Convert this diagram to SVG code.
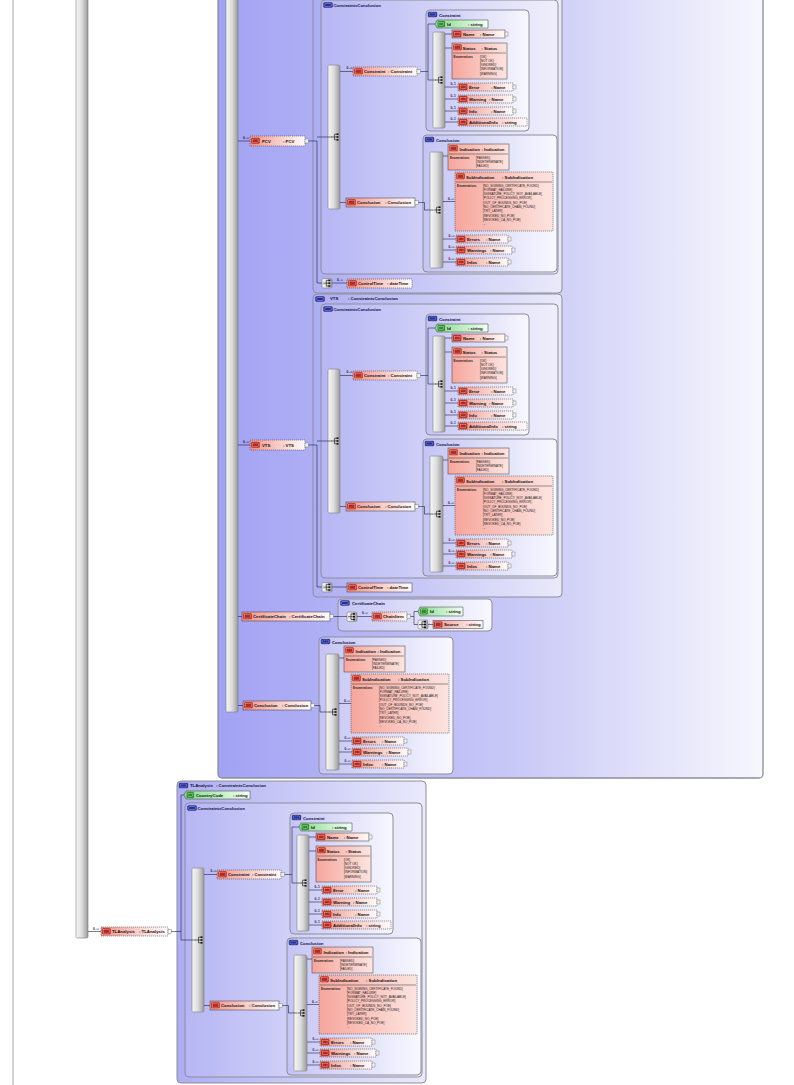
<svg xmlns="http://www.w3.org/2000/svg" width="794" height="1085" viewBox="0 0 794 1085">
<defs>
<style>
text{font-family:"Liberation Sans",Arial,sans-serif;fill:#111}
.t{font-size:4.3px;font-weight:bold}
.h{font-size:4.3px;font-weight:bold;fill:#0e0e3c}
.m{font-size:3.2px;font-weight:bold;fill:#1a1a40}
.en{font-size:3.1px;fill:#222}
.enl{font-size:2.9px;font-weight:bold;fill:#222}
.cn{fill:none;stroke:#20204a;stroke-width:.6}
.bar{fill:url(#gBar);stroke:#7d7d7d;stroke-width:.6}
.bx0{fill:url(#gBig);stroke:#8d8d9a;stroke-width:1.3}
.bx1{fill:url(#gType);stroke:#8d8d9a;stroke-width:1}
.bx2{fill:url(#gCC);stroke:#8d8d9a;stroke-width:1}
.bx3{fill:url(#gCE);stroke:#8d8d9a;stroke-width:1}
.el{fill:url(#gEl);stroke:#3a3a3a;stroke-width:.5}
.elb{fill:url(#gElB);stroke:#3a3a3a;stroke-width:.5}
.o{stroke-dasharray:1.2 .8}
.at{fill:url(#gAt);stroke:#3a3a3a;stroke-width:.5}
.tail{fill:#f2f2f2;stroke:#6a6a6a;stroke-width:.4}
.dv{stroke:#333;stroke-width:.5}
</style>
<linearGradient id="gBig"><stop offset="0" stop-color="#a2a2f4"/><stop offset="0.55" stop-color="#c9c9f7"/><stop offset="1" stop-color="#f7f7fd"/></linearGradient>
<linearGradient id="gType"><stop offset="0" stop-color="#adadf3"/><stop offset="1" stop-color="#eaeafb"/></linearGradient>
<linearGradient id="gCC"><stop offset="0" stop-color="#b6b6f4"/><stop offset="1" stop-color="#efeffc"/></linearGradient>
<linearGradient id="gCE"><stop offset="0" stop-color="#c4c4f5"/><stop offset="1" stop-color="#f8f8ff"/></linearGradient>
<linearGradient id="gBar"><stop offset="0" stop-color="#f7f7f7"/><stop offset="0.5" stop-color="#dcdcdc"/><stop offset="1" stop-color="#9a9a9a"/></linearGradient>
<linearGradient id="gEl"><stop offset="0" stop-color="#f0928a"/><stop offset="0.45" stop-color="#f8c6c0"/><stop offset="1" stop-color="#fffafa"/></linearGradient>
<linearGradient id="gElB"><stop offset="0" stop-color="#f6a69c"/><stop offset="1" stop-color="#fde4e0"/></linearGradient>
<linearGradient id="gAt"><stop offset="0" stop-color="#86dc8e"/><stop offset="1" stop-color="#f2fff2"/></linearGradient>
<g id="ic-e"><rect width="8" height="5.6" rx="0.8" fill="#b8281f" stroke="#7a1010" stroke-width="0.3"/><rect x="1.2" y="1" width="5.6" height="3.6" fill="none" stroke="#ffd8d2" stroke-width="0.35"/></g>
<g id="ic-a"><rect width="7" height="5.6" rx="0.8" fill="#2f8d2f" stroke="#145214" stroke-width="0.3"/><rect x="1.1" y="1" width="4.8" height="3.6" fill="none" stroke="#d8ffd8" stroke-width="0.35"/></g>
<g id="ic-ce"><rect width="9" height="5" rx="1.2" fill="#25309a" stroke="#0c1050" stroke-width="0.3"/><rect x="1.2" y="1" width="6.6" height="3" rx="0.6" fill="none" stroke="#c8ccff" stroke-width="0.4"/></g>
<g id="seqi"><path d="M-4.5,0H-1.5M-1.5,-2.8V2.8M-1.5,-2.8H0.5M-1.5,0H0.5M-1.5,2.8H0.5" stroke="#111" stroke-width="0.6" fill="none"/><rect x="0.5" y="-3.6" width="2" height="1.6" fill="#111"/><rect x="0.5" y="-0.8" width="2" height="1.6" fill="#111"/><rect x="0.5" y="2" width="2" height="1.6" fill="#111"/></g>
</defs>
<rect width="794" height="1085" fill="#ffffff"/>

<g id="left-line"><line x1="13" y1="0" x2="13" y2="1085" stroke="#c4c4c4" stroke-width="1.5"/></g>
<g id="root-seq"><rect class="bar" x="76" y="-12" width="12" height="950" rx="1.5"/></g>

<g id="big-type"><rect class="bx0" x="218" y="-12" width="545" height="790" rx="4"/></g>
<g id="big-seq"><rect class="bar" x="226" y="-12" width="12" height="724" rx="1.5"/></g>

<!-- PCV type -->
<g id="pcv-type">
<rect class="bx1" x="313" y="-10" width="249" height="303" rx="4"/>
<g id="pcv-cc" transform="translate(321,0)">
<rect class="bx2" width="237" height="274" rx="4"/>
<use href="#ic-ce" x="2.5" y="2.5"/>
<text class="h" x="12.5" y="6.8">ConstraintsConclusion</text>
<g id="pcv-cc-seq"><rect class="bar" x="7" y="65" width="12" height="144" rx="1.5"/><use href="#seqi" x="15" y="137"/></g>
<g id="pcv-constraint"><text class="m" x="25.5" y="69">0..∞</text><rect class="el o" x="32" y="67" width="64" height="9"/><use href="#ic-e" x="33.5" y="68.5"/><text class="t" x="43" y="73.3">Constraint</text><text class="t" x="67" y="73.3">: Constraint</text><rect class="tail" x="96" y="69.5" width="3.5" height="4"/></g>
<g id="pcv-conclusion"><rect class="el" x="25" y="198" width="69" height="9"/><use href="#ic-e" x="26.5" y="199.5"/><text class="t" x="36" y="204.3">Conclusion</text><text class="t" x="64" y="204.3">: Conclusion</text><rect class="tail" x="94" y="200.5" width="3.5" height="4"/></g>
<g id="pcv-constraint-type" transform="translate(105,10)">
<rect class="bx3" width="103" height="121" rx="4"/>
<use href="#ic-ce" x="2" y="2"/>
<text class="h" x="13" y="6.6">Constraint</text>
<g id="pcv-c-id"><polygon class="at" points="11,10 62,10 62,18 11,18 9,14"/><use href="#ic-a" x="11.8" y="11.2"/><text class="t" x="21" y="15.8">Id</text><text class="t" x="42" y="15.8">: string</text></g>
<g id="pcv-c-seq"><rect class="bar" x="7" y="22" width="12" height="96" rx="1.5"/><use href="#seqi" x="14" y="70"/></g>
<g id="pcv-c-name"><rect class="el" x="26" y="20" width="53" height="8"/><use href="#ic-e" x="27.2" y="21.2"/><text class="t" x="37" y="25.8">Name</text><text class="t" x="54" y="25.8">: Name</text><rect class="tail" x="79" y="22" width="3" height="4"/></g>
<g id="pcv-c-status"><rect class="elb" x="26" y="33" width="55" height="36"/><use href="#ic-e" x="27.5" y="34.5"/><text class="t" x="36.5" y="39.6">Status</text><text class="t" x="55.5" y="39.6">: Status</text><line class="dv" x1="27" y1="43" x2="80" y2="43"/><text class="enl" x="27.5" y="47.5">Enumerations</text><text class="en" y="47.5"><tspan x="54">[OK]</tspan><tspan x="54" dy="4.3">[NOT OK]</tspan><tspan x="54" dy="4.3">[IGNORED]</tspan><tspan x="54" dy="4.3">[INFORMATION]</tspan><tspan x="54" dy="4.3">[WARNING]</tspan></text></g>
<g id="pcv-c-error"><text class="m" x="24.5" y="75">0..1</text><rect class="el o" x="32" y="73" width="55" height="8"/><use href="#ic-e" x="33.2" y="74.2"/><text class="t" x="43" y="78.8">Error</text><text class="t" x="65" y="78.8">: Name</text><rect class="tail" x="87" y="75" width="3" height="4"/></g>
<g id="pcv-c-warning"><text class="m" x="24.5" y="87">0..1</text><rect class="el o" x="32" y="85" width="55" height="8"/><use href="#ic-e" x="33.2" y="86.2"/><text class="t" x="43" y="90.8">Warning</text><text class="t" x="63" y="90.8">: Name</text><rect class="tail" x="87" y="87" width="3" height="4"/></g>
<g id="pcv-c-info"><text class="m" x="24.5" y="99">0..1</text><rect class="el o" x="32" y="97" width="55" height="8"/><use href="#ic-e" x="33.2" y="98.2"/><text class="t" x="43" y="102.8">Info</text><text class="t" x="65" y="102.8">: Name</text><rect class="tail" x="87" y="99" width="3" height="4"/></g>
<g id="pcv-c-addinfo"><text class="m" x="24.5" y="110">0..1</text><rect class="el o" x="32" y="108" width="69" height="8"/><use href="#ic-e" x="33.2" y="109.2"/><text class="t" x="43" y="113.8">AdditionalInfo</text><text class="t" x="76" y="113.8">: string</text></g>
</g>
<g id="pcv-conclusion-type" transform="translate(102,135)">
<rect class="bx3" width="134" height="137" rx="4"/>
<use href="#ic-ce" x="2" y="2"/>
<text class="h" x="13" y="6.6">Conclusion</text>
<g id="pcv-q-seq"><rect class="bar" x="7" y="17" width="13" height="116" rx="1.5"/><use href="#seqi" x="15" y="75"/></g>
<g id="pcv-q-indication"><rect class="elb" x="25" y="9" width="61" height="26"/><use href="#ic-e" x="26.5" y="10.5"/><text class="t" x="36.5" y="15.6">Indication</text><text class="t" x="58.5" y="15.6">: Indication</text><line class="dv" x1="26" y1="19" x2="85" y2="19"/><text class="enl" x="27" y="23.5">Enumerations</text><text class="en" y="23.5"><tspan x="53">[PASSED]</tspan><tspan x="53" dy="4.3">[INDETERMINATE]</tspan><tspan x="53" dy="4.3">[FAILED]</tspan></text></g>
<g id="pcv-q-subindication"><text class="m" x="25" y="64.5">0..∞</text><rect class="elb o" x="32" y="37" width="98" height="59"/><use href="#ic-e" x="33.5" y="38.5"/><text class="t" x="43" y="43.6">SubIndication</text><text class="t" x="79" y="43.6">: SubIndication</text><line class="dv" x1="33" y1="47" x2="129" y2="47"/><text class="enl" x="34" y="51.5">Enumerations</text><text class="en" y="51.5"><tspan x="60">[NO_SIGNING_CERTIFICATE_FOUND]</tspan><tspan x="60" dy="4.3">[FORMAT_FAILURE]</tspan><tspan x="60" dy="4.3">[SIGNATURE_POLICY_NOT_AVAILABLE]</tspan><tspan x="60" dy="4.3">[POLICY_PROCESSING_ERROR]</tspan><tspan x="60" dy="4.3">[OUT_OF_BOUNDS_NO_POE]</tspan><tspan x="60" dy="4.3">[NO_CERTIFICATE_CHAIN_FOUND]</tspan><tspan x="60" dy="4.3">[TRY_LATER]</tspan><tspan x="60" dy="4.3">[REVOKED_NO_POE]</tspan><tspan x="60" dy="4.3">[REVOKED_CA_NO_POE]</tspan><tspan x="60" dy="4.3">...</tspan></text></g>
<g id="pcv-q-errors"><text class="m" x="25.5" y="102">0..∞</text><rect class="el o" x="33" y="100" width="52" height="8"/><use href="#ic-e" x="34.2" y="101.2"/><text class="t" x="44" y="105.8">Errors</text><text class="t" x="63" y="105.8">: Name</text><rect class="tail" x="85" y="102" width="3" height="4"/></g>
<g id="pcv-q-warnings"><text class="m" x="25.5" y="113">0..∞</text><rect class="el o" x="33" y="111" width="56" height="8"/><use href="#ic-e" x="34.2" y="112.2"/><text class="t" x="44" y="116.8">Warnings</text><text class="t" x="67" y="116.8">: Name</text><rect class="tail" x="89" y="113" width="3" height="4"/></g>
<g id="pcv-q-infos"><text class="m" x="25.5" y="125">0..∞</text><rect class="el o" x="33" y="123" width="52" height="8"/><use href="#ic-e" x="34.2" y="124.2"/><text class="t" x="44" y="128.8">Infos</text><text class="t" x="63" y="128.8">: Name</text><rect class="tail" x="85" y="125" width="3" height="4"/></g>
</g>
</g>
<g id="pcv-controltime-seq"><rect class="bar" x="322" y="278.5" width="10" height="9.5" rx="1.5"/><use href="#seqi" x="327.8" y="283.2"/></g>
<g id="pcv-controltime"><text class="m" x="337" y="280.5">0..∞</text><rect class="el o" x="347" y="279" width="65" height="9"/><use href="#ic-e" x="348.5" y="280.5"/><text class="t" x="358" y="285.3">ControlTime</text><text class="t" x="387" y="285.3">: dateTime</text></g>
</g>

<!-- VTS type -->
<g id="vts-type" transform="translate(0,304)">
<rect class="bx1" x="313" y="-10" width="249" height="303" rx="4"/>
<use href="#ic-ce" x="315.5" y="-7.5"/>
<text class="h" x="330" y="-3.6">VTS</text>
<text class="h" x="348" y="-3.6">: ConstraintsConclusion</text>
<g id="vts-cc" transform="translate(321,0)">
<rect class="bx2" width="237" height="274" rx="4"/>
<use href="#ic-ce" x="2.5" y="2.5"/>
<text class="h" x="12.5" y="6.8">ConstraintsConclusion</text>
<g id="vts-cc-seq"><rect class="bar" x="7" y="65" width="12" height="144" rx="1.5"/><use href="#seqi" x="15" y="137"/></g>
<g id="vts-constraint"><text class="m" x="25.5" y="69">0..∞</text><rect class="el o" x="32" y="67" width="64" height="9"/><use href="#ic-e" x="33.5" y="68.5"/><text class="t" x="43" y="73.3">Constraint</text><text class="t" x="67" y="73.3">: Constraint</text><rect class="tail" x="96" y="69.5" width="3.5" height="4"/></g>
<g id="vts-conclusion"><rect class="el" x="25" y="198" width="69" height="9"/><use href="#ic-e" x="26.5" y="199.5"/><text class="t" x="36" y="204.3">Conclusion</text><text class="t" x="64" y="204.3">: Conclusion</text><rect class="tail" x="94" y="200.5" width="3.5" height="4"/></g>
<g id="vts-constraint-type" transform="translate(105,10)">
<rect class="bx3" width="103" height="121" rx="4"/>
<use href="#ic-ce" x="2" y="2"/>
<text class="h" x="13" y="6.6">Constraint</text>
<g id="vts-c-id"><polygon class="at" points="11,10 62,10 62,18 11,18 9,14"/><use href="#ic-a" x="11.8" y="11.2"/><text class="t" x="21" y="15.8">Id</text><text class="t" x="42" y="15.8">: string</text></g>
<g id="vts-c-seq"><rect class="bar" x="7" y="22" width="12" height="96" rx="1.5"/><use href="#seqi" x="14" y="70"/></g>
<g id="vts-c-name"><rect class="el" x="26" y="20" width="53" height="8"/><use href="#ic-e" x="27.2" y="21.2"/><text class="t" x="37" y="25.8">Name</text><text class="t" x="54" y="25.8">: Name</text><rect class="tail" x="79" y="22" width="3" height="4"/></g>
<g id="vts-c-status"><rect class="elb" x="26" y="33" width="55" height="36"/><use href="#ic-e" x="27.5" y="34.5"/><text class="t" x="36.5" y="39.6">Status</text><text class="t" x="55.5" y="39.6">: Status</text><line class="dv" x1="27" y1="43" x2="80" y2="43"/><text class="enl" x="27.5" y="47.5">Enumerations</text><text class="en" y="47.5"><tspan x="54">[OK]</tspan><tspan x="54" dy="4.3">[NOT OK]</tspan><tspan x="54" dy="4.3">[IGNORED]</tspan><tspan x="54" dy="4.3">[INFORMATION]</tspan><tspan x="54" dy="4.3">[WARNING]</tspan></text></g>
<g id="vts-c-error"><text class="m" x="24.5" y="75">0..1</text><rect class="el o" x="32" y="73" width="55" height="8"/><use href="#ic-e" x="33.2" y="74.2"/><text class="t" x="43" y="78.8">Error</text><text class="t" x="65" y="78.8">: Name</text><rect class="tail" x="87" y="75" width="3" height="4"/></g>
<g id="vts-c-warning"><text class="m" x="24.5" y="87">0..1</text><rect class="el o" x="32" y="85" width="55" height="8"/><use href="#ic-e" x="33.2" y="86.2"/><text class="t" x="43" y="90.8">Warning</text><text class="t" x="63" y="90.8">: Name</text><rect class="tail" x="87" y="87" width="3" height="4"/></g>
<g id="vts-c-info"><text class="m" x="24.5" y="99">0..1</text><rect class="el o" x="32" y="97" width="55" height="8"/><use href="#ic-e" x="33.2" y="98.2"/><text class="t" x="43" y="102.8">Info</text><text class="t" x="65" y="102.8">: Name</text><rect class="tail" x="87" y="99" width="3" height="4"/></g>
<g id="vts-c-addinfo"><text class="m" x="24.5" y="110">0..1</text><rect class="el o" x="32" y="108" width="69" height="8"/><use href="#ic-e" x="33.2" y="109.2"/><text class="t" x="43" y="113.8">AdditionalInfo</text><text class="t" x="76" y="113.8">: string</text></g>
</g>
<g id="vts-conclusion-type" transform="translate(102,135)">
<rect class="bx3" width="134" height="137" rx="4"/>
<use href="#ic-ce" x="2" y="2"/>
<text class="h" x="13" y="6.6">Conclusion</text>
<g id="vts-q-seq"><rect class="bar" x="7" y="17" width="13" height="116" rx="1.5"/><use href="#seqi" x="15" y="75"/></g>
<g id="vts-q-indication"><rect class="elb" x="25" y="9" width="61" height="26"/><use href="#ic-e" x="26.5" y="10.5"/><text class="t" x="36.5" y="15.6">Indication</text><text class="t" x="58.5" y="15.6">: Indication</text><line class="dv" x1="26" y1="19" x2="85" y2="19"/><text class="enl" x="27" y="23.5">Enumerations</text><text class="en" y="23.5"><tspan x="53">[PASSED]</tspan><tspan x="53" dy="4.3">[INDETERMINATE]</tspan><tspan x="53" dy="4.3">[FAILED]</tspan></text></g>
<g id="vts-q-subindication"><text class="m" x="25" y="64.5">0..∞</text><rect class="elb o" x="32" y="37" width="98" height="59"/><use href="#ic-e" x="33.5" y="38.5"/><text class="t" x="43" y="43.6">SubIndication</text><text class="t" x="79" y="43.6">: SubIndication</text><line class="dv" x1="33" y1="47" x2="129" y2="47"/><text class="enl" x="34" y="51.5">Enumerations</text><text class="en" y="51.5"><tspan x="60">[NO_SIGNING_CERTIFICATE_FOUND]</tspan><tspan x="60" dy="4.3">[FORMAT_FAILURE]</tspan><tspan x="60" dy="4.3">[SIGNATURE_POLICY_NOT_AVAILABLE]</tspan><tspan x="60" dy="4.3">[POLICY_PROCESSING_ERROR]</tspan><tspan x="60" dy="4.3">[OUT_OF_BOUNDS_NO_POE]</tspan><tspan x="60" dy="4.3">[NO_CERTIFICATE_CHAIN_FOUND]</tspan><tspan x="60" dy="4.3">[TRY_LATER]</tspan><tspan x="60" dy="4.3">[REVOKED_NO_POE]</tspan><tspan x="60" dy="4.3">[REVOKED_CA_NO_POE]</tspan><tspan x="60" dy="4.3">...</tspan></text></g>
<g id="vts-q-errors"><text class="m" x="25.5" y="102">0..∞</text><rect class="el o" x="33" y="100" width="52" height="8"/><use href="#ic-e" x="34.2" y="101.2"/><text class="t" x="44" y="105.8">Errors</text><text class="t" x="63" y="105.8">: Name</text><rect class="tail" x="85" y="102" width="3" height="4"/></g>
<g id="vts-q-warnings"><text class="m" x="25.5" y="113">0..∞</text><rect class="el o" x="33" y="111" width="56" height="8"/><use href="#ic-e" x="34.2" y="112.2"/><text class="t" x="44" y="116.8">Warnings</text><text class="t" x="67" y="116.8">: Name</text><rect class="tail" x="89" y="113" width="3" height="4"/></g>
<g id="vts-q-infos"><text class="m" x="25.5" y="125">0..∞</text><rect class="el o" x="33" y="123" width="52" height="8"/><use href="#ic-e" x="34.2" y="124.2"/><text class="t" x="44" y="128.8">Infos</text><text class="t" x="63" y="128.8">: Name</text><rect class="tail" x="85" y="125" width="3" height="4"/></g>
</g>
</g>
<g id="vts-controltime-seq"><rect class="bar" x="322" y="278.5" width="10" height="9.5" rx="1.5"/><use href="#seqi" x="327.8" y="283.2"/></g>
<g id="vts-controltime"><rect class="el" x="347" y="279" width="65" height="9"/><use href="#ic-e" x="348.5" y="280.5"/><text class="t" x="358" y="285.3">ControlTime</text><text class="t" x="387" y="285.3">: dateTime</text></g>
</g>

<!-- elements on big sequence -->
<g id="el-pcv"><text class="m" x="243" y="138.5">0..∞</text><rect class="el o" x="250" y="136" width="55" height="10"/><use href="#ic-e" x="251.5" y="138"/><text class="t" x="262" y="142.8">PCV</text><text class="t" x="283" y="142.8">: PCV</text><rect class="tail" x="305" y="139" width="3.5" height="4"/></g>
<g id="el-vts"><text class="m" x="243" y="442.5">0..∞</text><rect class="el o" x="250" y="440" width="55" height="10"/><use href="#ic-e" x="251.5" y="442"/><text class="t" x="262" y="446.8">VTS</text><text class="t" x="283" y="446.8">: VTS</text><rect class="tail" x="305" y="443" width="3.5" height="4"/></g>
<g id="el-certchain"><rect class="el" x="242" y="612" width="88" height="9"/><use href="#ic-e" x="243.5" y="613.5"/><text class="t" x="253" y="618.3">CertificateChain</text><text class="t" x="289" y="618.3">: CertificateChain</text><rect class="tail" x="330" y="614.5" width="3.5" height="4"/></g>
<g id="certchain-type">
<rect class="bx3" x="338" y="599" width="154" height="32" rx="4"/>
<use href="#ic-ce" x="340.5" y="600.5"/>
<text class="h" x="352" y="604.8">CertificateChain</text>
<g id="certchain-seq"><rect class="bar" x="347" y="612" width="10" height="9.5" rx="1.5"/><use href="#seqi" x="352.5" y="616.7"/></g>
<g id="el-chainitem"><text class="m" x="362" y="614">0..∞</text><rect class="el o" x="372" y="612" width="35" height="9"/><use href="#ic-e" x="373.5" y="613.5"/><text class="t" x="383" y="618.3">ChainItem</text><rect class="tail" x="407" y="614.5" width="3.5" height="4"/></g>
<g id="chainitem-id"><polygon class="at" points="420,607 463,607 463,616 420,616 418,611.5"/><use href="#ic-a" x="420.5" y="608.7"/><text class="t" x="430" y="613.4">Id</text><text class="t" x="446" y="613.4">: string</text></g>
<g id="chainitem-seq"><rect class="bar" x="418" y="620" width="10" height="9" rx="1.5"/><use href="#seqi" x="423.5" y="624.5"/></g>
<g id="chainitem-source"><rect class="el" x="433" y="620.5" width="50" height="8"/><use href="#ic-e" x="434.2" y="621.7"/><text class="t" x="444" y="626.3">Source</text><text class="t" x="466" y="626.3">: string</text></g>
</g>
<g id="el-conclusion"><rect class="el" x="243" y="701" width="68" height="9"/><use href="#ic-e" x="244.5" y="702.5"/><text class="t" x="254" y="707.3">Conclusion</text><text class="t" x="282" y="707.3">: Conclusion</text><rect class="tail" x="311" y="703.5" width="3.5" height="4"/></g>
<g id="conclusion-type" transform="translate(319,637)">
<rect class="bx3" width="134" height="137" rx="4"/>
<use href="#ic-ce" x="2" y="2"/>
<text class="h" x="13" y="6.6">Conclusion</text>
<g id="cl-q-seq"><rect class="bar" x="7" y="17" width="13" height="116" rx="1.5"/><use href="#seqi" x="15" y="75"/></g>
<g id="cl-q-indication"><rect class="elb" x="25" y="9" width="61" height="26"/><use href="#ic-e" x="26.5" y="10.5"/><text class="t" x="36.5" y="15.6">Indication</text><text class="t" x="58.5" y="15.6">: Indication</text><line class="dv" x1="26" y1="19" x2="85" y2="19"/><text class="enl" x="27" y="23.5">Enumerations</text><text class="en" y="23.5"><tspan x="53">[PASSED]</tspan><tspan x="53" dy="4.3">[INDETERMINATE]</tspan><tspan x="53" dy="4.3">[FAILED]</tspan></text></g>
<g id="cl-q-subindication"><text class="m" x="25" y="64.5">0..∞</text><rect class="elb o" x="32" y="37" width="98" height="59"/><use href="#ic-e" x="33.5" y="38.5"/><text class="t" x="43" y="43.6">SubIndication</text><text class="t" x="79" y="43.6">: SubIndication</text><line class="dv" x1="33" y1="47" x2="129" y2="47"/><text class="enl" x="34" y="51.5">Enumerations</text><text class="en" y="51.5"><tspan x="60">[NO_SIGNING_CERTIFICATE_FOUND]</tspan><tspan x="60" dy="4.3">[FORMAT_FAILURE]</tspan><tspan x="60" dy="4.3">[SIGNATURE_POLICY_NOT_AVAILABLE]</tspan><tspan x="60" dy="4.3">[POLICY_PROCESSING_ERROR]</tspan><tspan x="60" dy="4.3">[OUT_OF_BOUNDS_NO_POE]</tspan><tspan x="60" dy="4.3">[NO_CERTIFICATE_CHAIN_FOUND]</tspan><tspan x="60" dy="4.3">[TRY_LATER]</tspan><tspan x="60" dy="4.3">[REVOKED_NO_POE]</tspan><tspan x="60" dy="4.3">[REVOKED_CA_NO_POE]</tspan><tspan x="60" dy="4.3">...</tspan></text></g>
<g id="cl-q-errors"><text class="m" x="25.5" y="102">0..∞</text><rect class="el o" x="33" y="100" width="52" height="8"/><use href="#ic-e" x="34.2" y="101.2"/><text class="t" x="44" y="105.8">Errors</text><text class="t" x="63" y="105.8">: Name</text><rect class="tail" x="85" y="102" width="3" height="4"/></g>
<g id="cl-q-warnings"><text class="m" x="25.5" y="113">0..∞</text><rect class="el o" x="33" y="111" width="56" height="8"/><use href="#ic-e" x="34.2" y="112.2"/><text class="t" x="44" y="116.8">Warnings</text><text class="t" x="67" y="116.8">: Name</text><rect class="tail" x="89" y="113" width="3" height="4"/></g>
<g id="cl-q-infos"><text class="m" x="25.5" y="125">0..∞</text><rect class="el o" x="33" y="123" width="52" height="8"/><use href="#ic-e" x="34.2" y="124.2"/><text class="t" x="44" y="128.8">Infos</text><text class="t" x="63" y="128.8">: Name</text><rect class="tail" x="85" y="125" width="3" height="4"/></g>
</g>

<!-- TLAnalysis -->
<g id="el-tlanalysis"><text class="m" x="93" y="929.5">0..∞</text><rect class="el o" x="101" y="927" width="67" height="9"/><use href="#ic-e" x="102.5" y="928.5"/><text class="t" x="112" y="933.3">TLAnalysis</text><text class="t" x="139" y="933.3">: TLAnalysis</text><rect class="tail" x="168" y="929.5" width="3.5" height="4"/></g>
<g id="tl-type">
<rect class="bx1" x="177" y="781" width="249" height="302" rx="4"/>
<use href="#ic-ce" x="179" y="783"/>
<text class="h" x="190" y="787.3">TLAnalysis</text>
<text class="h" x="216" y="787.3">: ConstraintsConclusion</text>
<g id="tl-countrycode"><polygon class="at" points="186,791 250,791 250,799 186,799 184,795"/><use href="#ic-a" x="186.8" y="792.2"/><text class="t" x="196" y="796.8">CountryCode</text><text class="t" x="233" y="796.8">: string</text></g>
<g id="tl-cc" transform="translate(185,803)">
<rect class="bx2" width="237" height="274" rx="4"/>
<use href="#ic-ce" x="2.5" y="2.5"/>
<text class="h" x="12.5" y="6.8">ConstraintsConclusion</text>
<g id="tl-cc-seq"><rect class="bar" x="7" y="65" width="12" height="144" rx="1.5"/><use href="#seqi" x="15" y="137"/></g>
<g id="tl-constraint"><text class="m" x="25.5" y="69">0..∞</text><rect class="el o" x="32" y="67" width="64" height="9"/><use href="#ic-e" x="33.5" y="68.5"/><text class="t" x="43" y="73.3">Constraint</text><text class="t" x="67" y="73.3">: Constraint</text><rect class="tail" x="96" y="69.5" width="3.5" height="4"/></g>
<g id="tl-conclusion"><rect class="el" x="25" y="198" width="69" height="9"/><use href="#ic-e" x="26.5" y="199.5"/><text class="t" x="36" y="204.3">Conclusion</text><text class="t" x="64" y="204.3">: Conclusion</text><rect class="tail" x="94" y="200.5" width="3.5" height="4"/></g>
<g id="tl-constraint-type" transform="translate(105,10)">
<rect class="bx3" width="103" height="121" rx="4"/>
<use href="#ic-ce" x="2" y="2"/>
<text class="h" x="13" y="6.6">Constraint</text>
<g id="tl-c-id"><polygon class="at" points="11,10 62,10 62,18 11,18 9,14"/><use href="#ic-a" x="11.8" y="11.2"/><text class="t" x="21" y="15.8">Id</text><text class="t" x="42" y="15.8">: string</text></g>
<g id="tl-c-seq"><rect class="bar" x="7" y="22" width="12" height="96" rx="1.5"/><use href="#seqi" x="14" y="70"/></g>
<g id="tl-c-name"><rect class="el" x="26" y="20" width="53" height="8"/><use href="#ic-e" x="27.2" y="21.2"/><text class="t" x="37" y="25.8">Name</text><text class="t" x="54" y="25.8">: Name</text><rect class="tail" x="79" y="22" width="3" height="4"/></g>
<g id="tl-c-status"><rect class="elb" x="26" y="33" width="55" height="36"/><use href="#ic-e" x="27.5" y="34.5"/><text class="t" x="36.5" y="39.6">Status</text><text class="t" x="55.5" y="39.6">: Status</text><line class="dv" x1="27" y1="43" x2="80" y2="43"/><text class="enl" x="27.5" y="47.5">Enumerations</text><text class="en" y="47.5"><tspan x="54">[OK]</tspan><tspan x="54" dy="4.3">[NOT OK]</tspan><tspan x="54" dy="4.3">[IGNORED]</tspan><tspan x="54" dy="4.3">[INFORMATION]</tspan><tspan x="54" dy="4.3">[WARNING]</tspan></text></g>
<g id="tl-c-error"><text class="m" x="24.5" y="75">0..1</text><rect class="el o" x="32" y="73" width="55" height="8"/><use href="#ic-e" x="33.2" y="74.2"/><text class="t" x="43" y="78.8">Error</text><text class="t" x="65" y="78.8">: Name</text><rect class="tail" x="87" y="75" width="3" height="4"/></g>
<g id="tl-c-warning"><text class="m" x="24.5" y="87">0..1</text><rect class="el o" x="32" y="85" width="55" height="8"/><use href="#ic-e" x="33.2" y="86.2"/><text class="t" x="43" y="90.8">Warning</text><text class="t" x="63" y="90.8">: Name</text><rect class="tail" x="87" y="87" width="3" height="4"/></g>
<g id="tl-c-info"><text class="m" x="24.5" y="99">0..1</text><rect class="el o" x="32" y="97" width="55" height="8"/><use href="#ic-e" x="33.2" y="98.2"/><text class="t" x="43" y="102.8">Info</text><text class="t" x="65" y="102.8">: Name</text><rect class="tail" x="87" y="99" width="3" height="4"/></g>
<g id="tl-c-addinfo"><text class="m" x="24.5" y="110">0..1</text><rect class="el o" x="32" y="108" width="69" height="8"/><use href="#ic-e" x="33.2" y="109.2"/><text class="t" x="43" y="113.8">AdditionalInfo</text><text class="t" x="76" y="113.8">: string</text></g>
</g>
<g id="tl-conclusion-type" transform="translate(102,135)">
<rect class="bx3" width="134" height="137" rx="4"/>
<use href="#ic-ce" x="2" y="2"/>
<text class="h" x="13" y="6.6">Conclusion</text>
<g id="tl-q-seq"><rect class="bar" x="7" y="17" width="13" height="116" rx="1.5"/><use href="#seqi" x="15" y="75"/></g>
<g id="tl-q-indication"><rect class="elb" x="25" y="9" width="61" height="26"/><use href="#ic-e" x="26.5" y="10.5"/><text class="t" x="36.5" y="15.6">Indication</text><text class="t" x="58.5" y="15.6">: Indication</text><line class="dv" x1="26" y1="19" x2="85" y2="19"/><text class="enl" x="27" y="23.5">Enumerations</text><text class="en" y="23.5"><tspan x="53">[PASSED]</tspan><tspan x="53" dy="4.3">[INDETERMINATE]</tspan><tspan x="53" dy="4.3">[FAILED]</tspan></text></g>
<g id="tl-q-subindication"><text class="m" x="25" y="64.5">0..∞</text><rect class="elb o" x="32" y="37" width="98" height="59"/><use href="#ic-e" x="33.5" y="38.5"/><text class="t" x="43" y="43.6">SubIndication</text><text class="t" x="79" y="43.6">: SubIndication</text><line class="dv" x1="33" y1="47" x2="129" y2="47"/><text class="enl" x="34" y="51.5">Enumerations</text><text class="en" y="51.5"><tspan x="60">[NO_SIGNING_CERTIFICATE_FOUND]</tspan><tspan x="60" dy="4.3">[FORMAT_FAILURE]</tspan><tspan x="60" dy="4.3">[SIGNATURE_POLICY_NOT_AVAILABLE]</tspan><tspan x="60" dy="4.3">[POLICY_PROCESSING_ERROR]</tspan><tspan x="60" dy="4.3">[OUT_OF_BOUNDS_NO_POE]</tspan><tspan x="60" dy="4.3">[NO_CERTIFICATE_CHAIN_FOUND]</tspan><tspan x="60" dy="4.3">[TRY_LATER]</tspan><tspan x="60" dy="4.3">[REVOKED_NO_POE]</tspan><tspan x="60" dy="4.3">[REVOKED_CA_NO_POE]</tspan><tspan x="60" dy="4.3">...</tspan></text></g>
<g id="tl-q-errors"><text class="m" x="25.5" y="102">0..∞</text><rect class="el o" x="33" y="100" width="52" height="8"/><use href="#ic-e" x="34.2" y="101.2"/><text class="t" x="44" y="105.8">Errors</text><text class="t" x="63" y="105.8">: Name</text><rect class="tail" x="85" y="102" width="3" height="4"/></g>
<g id="tl-q-warnings"><text class="m" x="25.5" y="113">0..∞</text><rect class="el o" x="33" y="111" width="56" height="8"/><use href="#ic-e" x="34.2" y="112.2"/><text class="t" x="44" y="116.8">Warnings</text><text class="t" x="67" y="116.8">: Name</text><rect class="tail" x="89" y="113" width="3" height="4"/></g>
<g id="tl-q-infos"><text class="m" x="25.5" y="125">0..∞</text><rect class="el o" x="33" y="123" width="52" height="8"/><use href="#ic-e" x="34.2" y="124.2"/><text class="t" x="44" y="128.8">Infos</text><text class="t" x="63" y="128.8">: Name</text><rect class="tail" x="85" y="125" width="3" height="4"/></g>
</g>
</g>
</g>

<!-- connectors -->
<g id="connectors" class="cn">
<path d="M88,931.5H101"/>
<path d="M171.5,931.5H181M181,795V940H196M181,795H184"/>
<path d="M238,141H250M238,445H250M238,616.5H242M238,705.5H243"/>
<path d="M308.5,141H317V283H322M317,137H332M332,283H347"/>
<path d="M308.5,445H317V587H322M317,441H332M332,587H347"/>
<path d="M333.5,616.5H347M357,616.5H372M410.5,616.5H414M414,611.5V624.5H418M414,611.5H418M428,624.5H433"/>
<path d="M314.5,705.5H320V712H330"/>
<path transform="translate(321,0)" d="M19,71.5H32M19,202.5H25M99.5,71.5H107M97.5,202.5H103.5V210H112"/>
<path transform="translate(321,304)" d="M19,71.5H32M19,202.5H25M99.5,71.5H107M97.5,202.5H103.5V210H112"/>
<path transform="translate(185,803)" d="M19,71.5H32M19,202.5H25M99.5,71.5H107M97.5,202.5H103.5V210H112"/>
<path transform="translate(426,10)" d="M2,14V70H10M2,14H9M19,24H26M19,38H26M19,77H32M19,89H32M19,101H32M19,112H32"/>
<path transform="translate(426,314)" d="M2,14V70H10M2,14H9M19,24H26M19,38H26M19,77H32M19,89H32M19,101H32M19,112H32"/>
<path transform="translate(290,813)" d="M2,14V70H10M2,14H9M19,24H26M19,38H26M19,77H32M19,89H32M19,101H32M19,112H32"/>
<path transform="translate(423,135)" d="M20,21H25M20,66.5H32M20,104H33M20,115H33M20,127H33"/>
<path transform="translate(423,439)" d="M20,21H25M20,66.5H32M20,104H33M20,115H33M20,127H33"/>
<path transform="translate(287,938)" d="M20,21H25M20,66.5H32M20,104H33M20,115H33M20,127H33"/>
<path transform="translate(319,637)" d="M20,21H25M20,66.5H32M20,104H33M20,115H33M20,127H33"/>
</g>
</svg>
